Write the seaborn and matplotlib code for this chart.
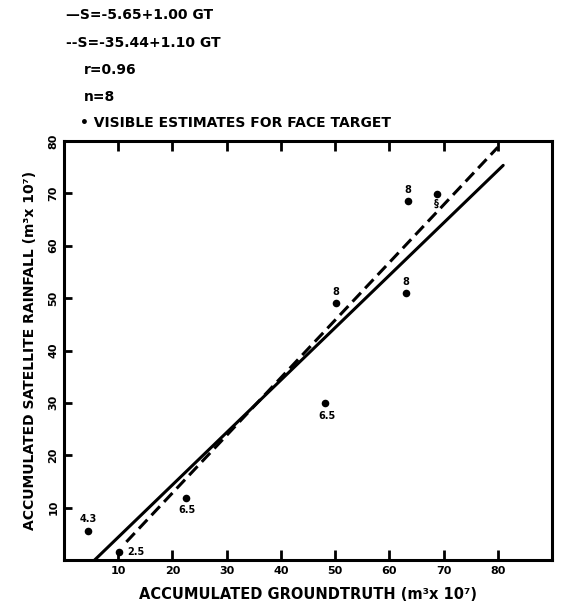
import matplotlib
matplotlib.use("Agg")
import matplotlib.pyplot as plt
import seaborn as sns
import numpy as np
import pandas as pd

# ---- data ----
groundtruth = [4.5, 10.1, 22.5, 48.2, 50.2, 63.0, 63.4, 68.7]
satellite = [5.5, 1.5, 11.9, 29.9, 49.0, 51.0, 68.5, 69.9]
point_labels = ["4.3", "2.5", "6.5", "6.5", "8", "8", "8", "§"]

solid_intercept, solid_slope = -5.65, 1.00
solid_range = [5.65, 81.0]
dash_intercept, dash_slope = -9.2, 1.10
dash_range = [11.5, 80.0]

x_ticks = [10, 20, 30, 40, 50, 60, 70, 80]
y_ticks = [10, 20, 30, 40, 50, 60, 70, 80]

legend_lines = ["—S=-5.65+1.00 GT", "--S=-35.44+1.10 GT", "r=0.96", "n=8",
                "• VISIBLE ESTIMATES FOR FACE TARGET"]

sns.set_theme(style="white")
plt.rcParams["font.family"] = ["DejaVu Sans"]
for k in ["text.color", "axes.labelcolor", "xtick.color", "ytick.color"]:
    plt.rcParams[k] = "black"

fig = plt.figure(figsize=(5.62, 6.10), dpi=100)
W, H = 562, 610
ax = fig.add_axes([64 / W, 1 - 560 / H, (552 - 64) / W, (560 - 141) / H])

df = pd.DataFrame({"GT": groundtruth, "S": satellite})
sns.scatterplot(data=df, x="GT", y="S", ax=ax, color="black", s=30,
                edgecolor="black", linewidth=0, legend=False)

xs = np.array(solid_range)
sns.lineplot(x=xs, y=solid_intercept + solid_slope * xs, ax=ax, color="black", lw=2.2)
xd = np.array(dash_range)
sns.lineplot(x=xd, y=dash_intercept + dash_slope * xd, ax=ax, color="black", lw=2.2,
             linestyle=(0, (4, 2)))

# labels above / below points
offsets = [(0, 9), (12, 0), (1, -9), (1, -9), (0, 8), (0, 8), (0, 8), (0, -7)]
for gx, sy, lab, (dx, dy) in zip(groundtruth, satellite, point_labels, offsets):
    ax.annotate(lab, (gx, sy), xytext=(dx, dy), textcoords="offset points",
                ha="center", va="center", fontsize=7, fontweight="bold")

ax.set_xlim(0, 90)
ax.set_ylim(0, 80)
ax.set_xticks(x_ticks)
ax.set_yticks(y_ticks)
ax.set_xticklabels([str(t) for t in x_ticks], fontsize=8, fontweight="bold")
ax.set_yticklabels([str(t) for t in y_ticks], fontsize=8, fontweight="bold",
                   rotation=90, va="center")
ax.tick_params(axis="x", direction="in", length=7, width=2, top=True, bottom=True,
               color="black", pad=4)
ax.tick_params(axis="y", direction="in", length=6, width=2, left=True, right=False,
               color="black", pad=4)
for sp in ax.spines.values():
    sp.set_visible(True)
    sp.set_color("black")
    sp.set_linewidth(2.2)

ax.set_xlabel("ACCUMULATED GROUNDTRUTH (m³x 10⁷)", fontsize=10.5, fontweight="bold",
              labelpad=8)
ax.set_ylabel("ACCUMULATED SATELLITE RAINFALL (m³x 10⁷)", fontsize=10,
              fontweight="bold", labelpad=8)

# legend block at top
ys = [15, 43, 70, 97, 123]
xs_txt = [66, 66, 84, 84, 80]
for t, yy, xx in zip(legend_lines, ys, xs_txt):
    fig.text(xx / W, 1 - yy / H, t, fontsize=10, fontweight="bold",
             ha="left", va="center")

fig.savefig("out.png", dpi=100, facecolor="white")
